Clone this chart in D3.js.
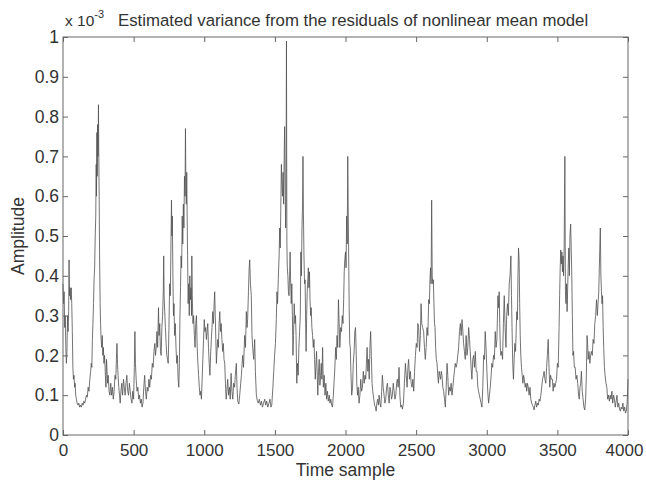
<!DOCTYPE html>
<html>
<head>
<meta charset="utf-8">
<script src="https://cdn.jsdelivr.net/npm/d3@7"></script>
<style>
  body { margin: 0; background: #fff; }
  text { font-family: "Liberation Sans", Arial, sans-serif; fill: #333; }
</style>
</head>
<body>
<svg id="plot"></svg>
<script>
var xTicks = [0, 500, 1000, 1500, 2000, 2500, 3000, 3500, 4000];
var yTicks = [0, 0.1, 0.2, 0.3, 0.4, 0.5, 0.6, 0.7, 0.8, 0.9, 1];

// [time sample, variance x 1e-3]
var varianceSeries = [
 [0,0.38],[4,0.33],[8,0.36],[12,0.27],[16,0.30],[20,0.22],[24,0.18],[28,0.21],[32,0.30],[36,0.26],[40,0.31],[43,0.44],[46,0.35],[50,0.37],[54,0.34],[58,0.37],[62,0.33],[66,0.26],[70,0.17],[74,0.14],[78,0.15],[82,0.12],[86,0.13],[90,0.10],[95,0.09],[100,0.08],[106,0.075],[112,0.08],[118,0.07],[124,0.075],[130,0.07],[136,0.08],[142,0.075],[148,0.085],[154,0.08],[160,0.09],[166,0.10],[172,0.095],[178,0.12],[184,0.11],[190,0.14],[196,0.16],[200,0.18],[204,0.17],[208,0.24],[212,0.28],[216,0.33],[220,0.39],[224,0.42],[228,0.50],[232,0.55],[235,0.68],[237,0.60],[240,0.76],[242,0.65],[245,0.78],[248,0.70],[251,0.83],[253,0.72],[256,0.60],[259,0.45],[263,0.33],[266,0.28],[270,0.24],[274,0.22],[278,0.25],[282,0.20],[286,0.22],[290,0.18],[294,0.20],[298,0.17],
 [300,0.15],[304,0.12],[308,0.19],[312,0.16],[316,0.13],[320,0.15],[326,0.11],[332,0.10],[338,0.13],[344,0.10],[350,0.12],[356,0.09],[362,0.11],[368,0.15],[374,0.14],[378,0.19],[382,0.23],[386,0.18],[390,0.15],[395,0.12],[400,0.10],[405,0.08],[410,0.11],[416,0.13],[422,0.10],[428,0.14],[434,0.12],[440,0.10],[446,0.13],[452,0.15],[458,0.11],[464,0.10],[470,0.13],[476,0.11],[482,0.09],[488,0.08],[494,0.11],[500,0.09],[505,0.17],[509,0.26],[513,0.18],[518,0.14],[524,0.11],[530,0.12],[536,0.09],[542,0.10],[548,0.08],[554,0.09],[560,0.07],[566,0.08],[572,0.12],[578,0.15],[584,0.11],[590,0.09],[596,0.12],[602,0.11],[608,0.14],[614,0.12],[620,0.15],[626,0.14],[632,0.18],[638,0.17],[644,0.21],[650,0.23],[655,0.20],[660,0.22],[665,0.26],[670,0.22],[676,0.32],[680,0.25],[685,0.28],[690,0.21],[695,0.20],[700,0.27],[705,0.30],[710,0.36],[713,0.45],[716,0.35],[720,0.31],[725,0.27],[730,0.23],[735,0.20],[740,0.19],[745,0.18],[750,0.27],[755,0.38],[760,0.35],[764,0.47],[768,0.59],[771,0.50],[774,0.55],[778,0.40],[782,0.30],[786,0.33],[790,0.25],[795,0.28],[800,0.22],[805,0.18],[810,0.20],[815,0.14],[820,0.12],[824,0.18],[828,0.30],[832,0.37],[836,0.45],[840,0.42],[844,0.55],[848,0.48],[852,0.58],[856,0.52],[860,0.65],[864,0.60],[867,0.77],[870,0.63],[873,0.58],[876,0.66],[879,0.55],[882,0.45],[886,0.33],[890,0.38],[894,0.30],[898,0.40],[902,0.34],[906,0.37],[910,0.30],[912,0.45],[915,0.35],[920,0.28],[925,0.30],[930,0.25],[935,0.22],[940,0.28],[945,0.30],[950,0.22],[955,0.18],[960,0.15],[965,0.12],[970,0.10],[975,0.11],[980,0.09],
 [985,0.14],[990,0.19],[995,0.24],[1000,0.29],[1005,0.26],[1010,0.27],[1015,0.24],[1020,0.26],[1025,0.28],[1030,0.22],[1035,0.18],[1040,0.15],[1045,0.20],[1050,0.24],[1055,0.27],[1060,0.31],[1065,0.28],[1070,0.33],[1074,0.36],[1078,0.30],[1082,0.24],[1086,0.18],[1090,0.21],[1096,0.24],[1100,0.22],[1105,0.28],[1110,0.31],[1115,0.26],[1120,0.28],[1125,0.24],[1130,0.21],[1135,0.23],[1140,0.19],[1145,0.18],[1150,0.13],[1155,0.09],[1160,0.11],[1166,0.14],[1172,0.10],[1178,0.12],[1184,0.09],[1190,0.155],[1196,0.11],[1202,0.09],[1208,0.13],[1215,0.12],[1220,0.15],[1227,0.18],[1232,0.12],[1237,0.085],[1245,0.078],[1251,0.10],[1258,0.13],[1263,0.15],[1268,0.18],[1272,0.20],[1278,0.17],[1286,0.25],[1292,0.22],[1298,0.31],[1303,0.27],[1307,0.29],[1313,0.36],[1318,0.42],[1322,0.44],[1327,0.38],[1333,0.35],[1338,0.25],[1343,0.22],[1350,0.19],[1357,0.24],[1362,0.16],[1369,0.10],[1375,0.087],[1382,0.08],[1390,0.09],[1398,0.075],[1405,0.085],[1412,0.07],[1420,0.08],[1428,0.09],[1435,0.075],[1442,0.085],[1450,0.07],[1458,0.08],[1465,0.09],[1472,0.07],[1478,0.075],[1486,0.12],[1492,0.16],[1498,0.20],[1504,0.23],[1510,0.29],[1515,0.36],[1519,0.33],[1524,0.39],[1530,0.45],[1534,0.52],[1538,0.47],[1542,0.57],[1546,0.68],[1550,0.63],[1554,0.60],[1558,0.66],[1562,0.58],[1566,0.70],[1569,0.775],[1573,0.62],[1576,0.52],[1579,0.60],[1582,0.99],[1585,0.48],[1588,0.42],[1592,0.40],[1596,0.36],[1600,0.35],[1604,0.40],[1608,0.46],[1612,0.38],[1616,0.33],[1620,0.38],[1624,0.30],[1628,0.20],[1632,0.25],[1637,0.33],[1642,0.28],[1646,0.30],[1650,0.25],[1655,0.13],[1660,0.18],[1665,0.15],[1670,0.22],[1675,0.26],[1680,0.30],[1684,0.46],[1688,0.40],[1692,0.52],[1696,0.58],[1699,0.70],[1702,0.56],[1706,0.45],[1710,0.38],[1714,0.39],[1718,0.28],[1721,0.21],[1725,0.30],[1729,0.36],[1733,0.39],[1737,0.42],[1741,0.37],[1745,0.41],[1749,0.34],[1753,0.30],[1757,0.32],[1762,0.27],[1767,0.25],[1772,0.22],[1777,0.24],[1781,0.19],[1786,0.14],[1790,0.17],[1795,0.21],[1800,0.15],[1804,0.10],[1809,0.16],[1814,0.19],[1819,0.125],[1824,0.15],[1828,0.18],[1833,0.14],[1838,0.22],[1843,0.12],[1849,0.15],[1855,0.10],[1861,0.13],[1866,0.09],[1872,0.11],[1878,0.085],[1885,0.10],[1890,0.08],[1896,0.09],[1902,0.075],[1908,0.07],[1914,0.10],[1920,0.14],[1925,0.17],[1930,0.22],[1935,0.19],[1940,0.25],[1945,0.22],[1950,0.34],[1955,0.28],[1960,0.22],[1966,0.27],[1972,0.26],[1977,0.30],[1982,0.28],[1987,0.34],[1991,0.41],[1995,0.44],[2000,0.46],[2004,0.42],[2008,0.55],[2012,0.48],[2016,0.70],[2019,0.58],[2022,0.47],[2026,0.32],[2030,0.23],[2034,0.22],[2038,0.16],[2044,0.10],[2050,0.12],[2055,0.18],[2061,0.21],[2066,0.26],[2071,0.27],[2076,0.20],[2080,0.13],[2085,0.10],[2090,0.12],[2096,0.08],[2102,0.10],[2108,0.14],[2114,0.11],[2120,0.12],[2126,0.16],[2132,0.13],[2138,0.15],[2143,0.14],[2148,0.18],[2153,0.22],[2158,0.16],[2163,0.19],[2168,0.14],[2173,0.22],[2178,0.26],[2183,0.20],[2188,0.13],[2193,0.11],[2200,0.09],[2206,0.075],[2212,0.07],[2217,0.06],[2222,0.08],[2228,0.09],[2233,0.075],[2238,0.10],[2244,0.08],[2250,0.07],[2256,0.11],[2261,0.15],[2267,0.12],[2273,0.10],[2279,0.08],[2285,0.09],[2291,0.12],[2297,0.13],[2303,0.10],[2309,0.08],[2315,0.12],[2320,0.11],[2326,0.09],[2332,0.10],[2338,0.13],[2344,0.11],[2350,0.09],[2356,0.10],[2362,0.13],[2367,0.14],[2373,0.12],[2379,0.17],[2385,0.10],[2391,0.07],[2397,0.075],[2403,0.065],[2410,0.08],[2417,0.13],[2424,0.18],[2430,0.15],[2436,0.12],[2442,0.17],[2447,0.19],[2453,0.14],[2459,0.16],[2465,0.13],[2471,0.12],[2477,0.14],[2483,0.11],[2489,0.16],[2495,0.20],[2501,0.23],[2507,0.22],[2512,0.28],[2518,0.27],[2524,0.21],[2530,0.25],[2535,0.33],[2540,0.28],[2546,0.27],[2553,0.26],[2559,0.22],[2565,0.19],[2571,0.22],[2577,0.27],[2583,0.25],[2589,0.34],[2594,0.33],[2598,0.39],[2602,0.42],[2606,0.38],[2610,0.59],[2614,0.40],[2618,0.38],[2622,0.39],[2626,0.33],[2630,0.28],[2634,0.27],[2638,0.22],[2643,0.19],[2648,0.18],[2653,0.15],[2658,0.13],[2663,0.16],[2668,0.15],[2673,0.14],[2678,0.16],[2683,0.15],[2689,0.12],[2695,0.11],[2701,0.09],[2707,0.07],[2713,0.12],[2719,0.18],[2724,0.15],[2730,0.10],[2736,0.12],[2742,0.11],[2748,0.13],[2754,0.10],[2760,0.12],[2765,0.14],[2771,0.16],[2777,0.18],[2783,0.17],[2789,0.18],[2795,0.20],[2801,0.22],[2807,0.26],[2813,0.28],[2819,0.25],[2825,0.29],[2831,0.26],[2836,0.23],[2842,0.21],[2848,0.19],[2854,0.25],[2860,0.20],[2866,0.22],[2872,0.27],[2878,0.24],[2883,0.21],[2889,0.17],[2895,0.14],[2901,0.19],[2907,0.20],[2913,0.17],[2919,0.21],[2925,0.16],[2931,0.16],[2937,0.12],[2942,0.11],[2948,0.10],[2954,0.09],[2960,0.08],[2966,0.07],[2972,0.12],[2978,0.20],[2984,0.19],[2989,0.26],[2995,0.22],[3001,0.16],[3007,0.11],[3013,0.08],[3019,0.10],[3025,0.12],[3031,0.15],[3036,0.18],[3042,0.17],[3048,0.20],[3054,0.19],[3060,0.26],[3066,0.22],[3072,0.24],[3079,0.35],[3084,0.32],[3088,0.36],[3092,0.28],[3096,0.22],[3100,0.20],[3106,0.21],[3112,0.19],[3118,0.28],[3124,0.35],[3130,0.27],[3136,0.22],[3141,0.30],[3147,0.33],[3153,0.30],[3159,0.38],[3165,0.40],[3171,0.45],[3175,0.35],[3179,0.27],[3184,0.18],[3189,0.14],[3194,0.19],[3199,0.23],[3204,0.21],[3209,0.27],[3213,0.31],[3217,0.29],[3221,0.40],[3225,0.47],[3229,0.44],[3233,0.33],[3237,0.25],[3241,0.20],[3246,0.17],[3251,0.15],[3256,0.13],[3261,0.15],[3266,0.14],[3272,0.12],[3278,0.13],[3283,0.11],[3288,0.13],[3294,0.12],[3300,0.10],[3306,0.12],[3312,0.09],[3318,0.08],[3324,0.075],[3330,0.07],[3335,0.063],[3341,0.075],[3347,0.085],[3353,0.07],[3359,0.08],[3365,0.075],[3371,0.09],[3377,0.085],[3383,0.10],[3389,0.12],[3395,0.14],[3401,0.15],[3406,0.16],[3412,0.14],[3418,0.13],[3424,0.17],[3429,0.20],[3435,0.24],[3440,0.18],[3446,0.12],[3452,0.15],[3458,0.14],[3465,0.14],[3470,0.11],[3476,0.13],[3482,0.12],[3488,0.13],[3494,0.14],[3500,0.18],[3506,0.17],[3512,0.27],[3516,0.35],[3520,0.42],[3524,0.465],[3528,0.43],[3532,0.46],[3536,0.41],[3540,0.45],[3544,0.40],[3548,0.47],[3553,0.70],[3557,0.36],[3561,0.33],[3565,0.38],[3569,0.31],[3573,0.37],[3577,0.43],[3581,0.47],[3585,0.40],[3589,0.50],[3594,0.53],[3598,0.47],[3602,0.40],[3606,0.30],[3610,0.20],[3615,0.21],[3620,0.17],[3626,0.17],[3632,0.14],[3638,0.15],[3644,0.13],[3650,0.10],[3655,0.09],[3660,0.12],[3665,0.13],[3670,0.16],[3676,0.11],[3682,0.09],[3688,0.07],[3694,0.063],[3700,0.09],[3705,0.15],[3710,0.25],[3714,0.23],[3718,0.19],[3724,0.21],[3730,0.18],[3735,0.20],[3741,0.21],[3747,0.20],[3753,0.24],[3759,0.23],[3765,0.28],[3771,0.30],[3777,0.34],[3783,0.30],[3788,0.33],[3793,0.36],[3797,0.42],[3801,0.48],[3804,0.52],[3808,0.40],[3812,0.36],[3816,0.33],[3820,0.35],[3824,0.27],[3828,0.22],[3833,0.17],[3838,0.15],[3844,0.13],[3850,0.12],[3856,0.09],[3862,0.10],[3868,0.085],[3874,0.10],[3880,0.09],[3886,0.11],[3892,0.08],[3898,0.10],[3904,0.09],[3910,0.07],[3916,0.085],[3922,0.10],[3928,0.07],[3934,0.08],[3940,0.065],[3946,0.06],[3952,0.07],[3958,0.065],[3964,0.08],[3970,0.06],[3976,0.07],[3982,0.055],[3988,0.06],[3994,0.08],[4000,0.14]
];

var W = 646, H = 483;
var margin = {top: 37, right: 18, bottom: 48, left: 63},
    width = W - margin.left - margin.right,
    height = H - margin.top - margin.bottom;

var svg = d3.select("#plot").attr("width", W).attr("height", H);

var g = svg.append("g")
    .attr("transform", "translate(" + margin.left + "," + margin.top + ")");

var x = d3.scaleLinear().domain([0, 4000]).range([0, width]);
var y = d3.scaleLinear().domain([0, 1]).range([height, 0]);

// the series
g.append("path")
  .datum(varianceSeries)
  .attr("fill", "none")
  .attr("stroke", "#505050")
  .attr("stroke-width", 0.8)
  .attr("stroke-linejoin", "round")
  .attr("d", d3.line()
    .x(function(d){ return x(d[0]) })
    .y(function(d){ return y(d[1]) }));

// axes, MATLAB style: ticks pointing inward on all four sides
function styleAxis(sel, size) {
  sel.select(".domain").remove();
  sel.selectAll(".tick line").attr("stroke", "#666");
  sel.selectAll("text").attr("fill", "#333").style("font-size", (size || 17.5) + "px")
    .style("font-family", '"Liberation Sans", Arial, sans-serif');
}

var xAxisG = g.append("g")
  .attr("transform", "translate(0," + height + ")")
  .call(d3.axisBottom(x).tickValues(xTicks).tickSize(-5).tickPadding(9).tickFormat(d3.format("d")))
  .call(styleAxis, 17);
// last label sits slightly left so it stays inside the picture, as in the original
xAxisG.selectAll(".tick text").filter(function(d){ return d === 4000 }).attr("dx", -4);

g.append("g")
  .call(d3.axisTop(x).tickValues(xTicks).tickSize(-5).tickFormat(""))
  .call(styleAxis);

g.append("g")
  .call(d3.axisLeft(y).tickValues(yTicks).tickSize(-5).tickPadding(4).tickFormat(d3.format("~g")))
  .call(styleAxis);

g.append("g")
  .attr("transform", "translate(" + width + ",0)")
  .call(d3.axisRight(y).tickValues(yTicks).tickSize(-5).tickFormat(""))
  .call(styleAxis);

g.append("rect")
  .attr("width", width).attr("height", height)
  .attr("fill", "none").attr("stroke", "#666").attr("stroke-width", 1);

// labels
svg.append("text")
  .attr("x", margin.left + width / 2).attr("y", 476)
  .attr("text-anchor", "middle").style("font-size", "17.5px")
  .text("Time sample");

svg.append("text")
  .attr("transform", "translate(24," + (margin.top + height / 2) + ") rotate(-90)")
  .attr("text-anchor", "middle").style("font-size", "17.5px")
  .text("Amplitude");

var exp = svg.append("text").attr("x", 65).attr("y", 26).style("font-size", "15.5px");
exp.append("tspan").text("x 10");
exp.append("tspan").attr("dy", -8).style("font-size", "11px").text("-3");

svg.append("text")
  .attr("x", 118).attr("y", 26).style("font-size", "16.8px")
  .text("Estimated variance from the residuals of nonlinear mean model");
</script>
</body>
</html>
